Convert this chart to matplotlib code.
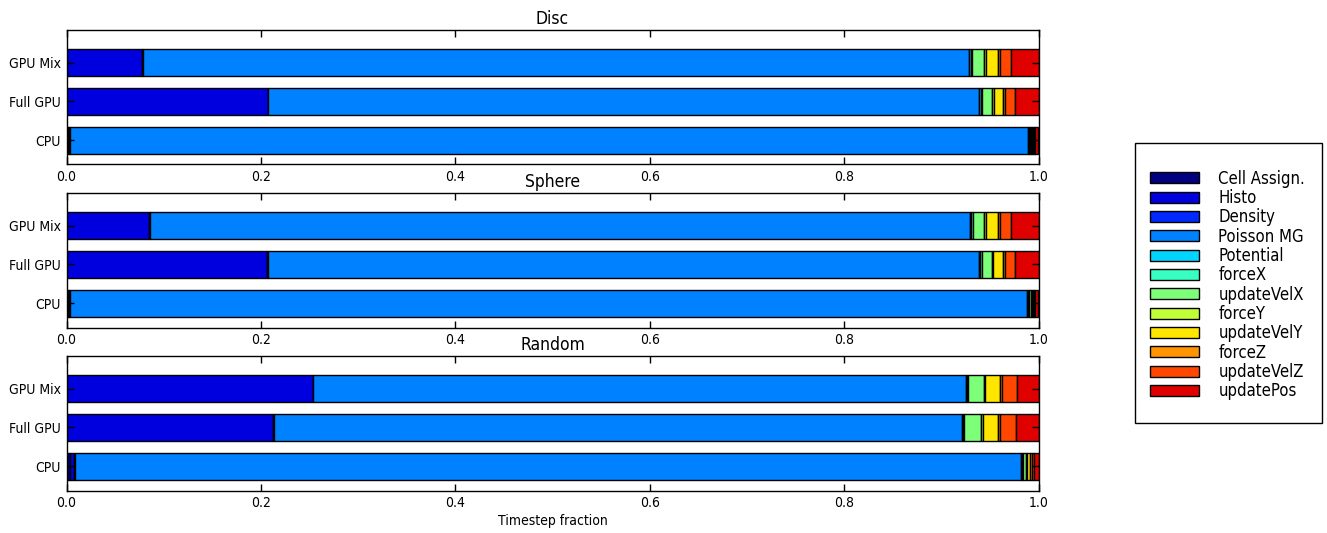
import matplotlib.pyplot as plt
import numpy as np
from matplotlib.patches import Rectangle

plt.rcParams['font.family'] = ['DejaVu Sans']
plt.rcParams['font.stretch'] = 'condensed'
plt.rcParams['axes.linewidth'] = 1.0
plt.rcParams['patch.linewidth'] = 1.0

# kernels in stacking order, machines per panel (bottom to top), test problems
kernels = ['Cell Assign.', 'Histo', 'Density', 'Poisson MG', 'Potential', 'forceX',
           'updateVelX', 'forceY', 'updateVelY', 'forceZ', 'updateVelZ', 'updatePos']
configs = ['CPU', 'Full GPU', 'GPU Mix']
cases = ['Disc', 'Sphere', 'Random']

# fraction of one timestep spent in each kernel
disc_cpu = [0.002, 0.001, 0.001, 0.985, 0.001, 0.001, 0.0012, 0.001, 0.0012, 0.001, 0.001, 0.0036]
disc_full_gpu = [0.001, 0.206, 0.0005, 0.7315, 0.0015, 0.0015, 0.0099, 0.002, 0.0097, 0.0016, 0.0103, 0.0245]
disc_gpu_mix = [0.001, 0.077, 0.0005, 0.8505, 0.0015, 0.0015, 0.0123, 0.002, 0.0116, 0.002, 0.012, 0.0281]

sphere_cpu = [0.002, 0.001, 0.001, 0.9839, 0.0013, 0.0013, 0.0013, 0.0012, 0.0013, 0.0012, 0.0014, 0.0031]
sphere_full_gpu = [0.001, 0.2055, 0.0005, 0.732, 0.0012, 0.0012, 0.0105, 0.0017, 0.0101, 0.0016, 0.0103, 0.0244]
sphere_gpu_mix = [0.001, 0.084, 0.0005, 0.8438, 0.0015, 0.0015, 0.0121, 0.002, 0.0117, 0.002, 0.0121, 0.0278]

random_cpu = [0.0035, 0.0047, 0.0005, 0.9728, 0.0011, 0.0011, 0.0031, 0.0012, 0.0035, 0.0013, 0.0026, 0.0046]
random_full_gpu = [0.001, 0.2115, 0.0005, 0.7085, 0.001, 0.001, 0.0175, 0.0014, 0.0161, 0.0017, 0.0168, 0.023]
random_gpu_mix = [0.001, 0.2525, 0.0005, 0.6712, 0.0012, 0.0012, 0.0161, 0.0014, 0.0155, 0.0016, 0.0154, 0.0224]

panels = [
    [disc_cpu, disc_full_gpu, disc_gpu_mix],
    [sphere_cpu, sphere_full_gpu, sphere_gpu_mix],
    [random_cpu, random_full_gpu, random_gpu_mix],
]

colors = plt.cm.jet(np.arange(len(kernels)) / float(len(kernels)))
ypos = np.arange(len(configs))

fig = plt.figure(figsize=(13.27, 5.33), dpi=100)
W, H = 1327.0, 533.0
tops = [30, 193, 356]
axh = 134.5

axes = []
for case, rows, top in zip(cases, panels, tops):
    ax = fig.add_axes([66.5 / W, 1 - (top + axh) / H, 972 / W, axh / H])
    data = np.array(rows)
    left = np.zeros(len(configs))
    for k, name in enumerate(kernels):
        ax.barh(ypos, data[:, k], height=0.7, left=left, color=colors[k],
                edgecolor='k', linewidth=1.0, label=name)
        left += data[:, k]
    ax.set_xlim(0, 1)
    ax.set_ylim(-0.62, 2.838)
    ax.set_yticks(ypos)
    ax.set_yticklabels(configs)
    ax.set_xticks(np.arange(0, 1.01, 0.2))
    ax.set_title(case, fontsize=12.5, pad=4)
    ax.tick_params(direction='in', top=True, right=True, length=5, width=1,
                   labelsize=10, pad=4)
    axes.append(ax)

axes[-1].set_xlabel('Timestep fraction', fontsize=10, labelpad=3)

handles, labels = axes[0].get_legend_handles_labels()
leg = fig.legend(handles, labels, loc='center left',
                 bbox_to_anchor=(1150 / W, 1 - 285 / H), frameon=False,
                 fontsize=12, borderpad=0, borderaxespad=0, labelspacing=0.08,
                 handlelength=2.95, handleheight=0.65, handletextpad=1.15)
# legend box
fig.patches.append(Rectangle((1135 / W, 1 - 423 / H), 187 / W, 280 / H,
                             transform=fig.transFigure, fill=False,
                             edgecolor='k', linewidth=1.0))

plt.savefig('out.png', dpi=100)
